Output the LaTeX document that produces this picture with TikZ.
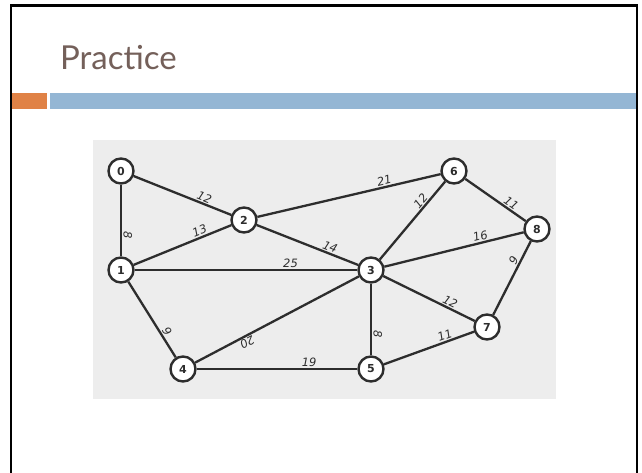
\documentclass[tikz,border=0pt]{standalone}
\usepackage{fontspec}
\newfontfamily\titlefont{Lato}
\newfontfamily\numfont{DejaVu Sans}
\definecolor{titlecol}{RGB}{116,96,90}
\definecolor{orangebar}{RGB}{224,130,70}
\definecolor{bluebar}{RGB}{148,182,212}
\definecolor{panel}{RGB}{237,237,237}
\definecolor{ink}{RGB}{45,45,45}
\begin{document}
\begin{tikzpicture}[x=1pt,y=-1pt,
  vtx/.style={circle,draw=ink,line width=2.4pt,fill=white,minimum size=25pt,inner sep=0pt,
    font=\numfont\bfseries\fontsize{11}{11}\selectfont,text=ink},
  edge/.style={draw=ink,line width=2.3pt},
  wt/.style={pos=0.7,above,sloped,allow upside down,inner sep=1.2pt,
    font=\numfont\itshape\fontsize{11.5}{11.5}\selectfont,text=ink}]
\useasboundingbox (0,0) rectangle (642,472);
\fill[white] (0,0) rectangle (642,472);
% frame
\draw[black,line width=2.8pt] (11,473) -- (11,5.5) -- (637,5.5) -- (637,473);
% title
\node[anchor=base west,inner sep=0pt,text=titlecol,font=\titlefont\fontsize{33}{33}\selectfont] (title) at (60,69) {Practice};
% bars
\fill[orangebar] (12.4,93) rectangle (47,109);
\fill[bluebar] (50,93) rectangle (635.6,109);
% panel
\fill[panel] (93,140) rectangle (556,399);
% nodes
\node[vtx] (n0) at (121,171) {0};
\node[vtx] (n1) at (121,270) {1};
\node[vtx] (n2) at (244,220) {2};
\node[vtx] (n3) at (371,270) {3};
\node[vtx] (n4) at (183,369) {4};
\node[vtx] (n5) at (371,369) {5};
\node[vtx] (n6) at (454,171) {6};
\node[vtx] (n7) at (487,327) {7};
\node[vtx] (n8) at (537,229) {8};
% edges
\draw[edge] (n0) -- node[wt] {8} (n1);
\draw[edge] (n0) -- node[wt] {12} (n2);
\draw[edge] (n1) -- node[wt] {13} (n2);
\draw[edge] (n1) -- node[wt] {25} (n3);
\draw[edge] (n1) -- node[wt] {9} (n4);
\draw[edge] (n2) -- node[wt] {14} (n3);
\draw[edge] (n2) -- node[wt] {21} (n6);
\draw[edge] (n3) -- node[wt] {12} (n6);
\draw[edge] (n3) -- node[wt] {16} (n8);
\draw[edge] (n3) -- node[wt] {20} (n4);
\draw[edge] (n3) -- node[wt] {8} (n5);
\draw[edge] (n3) -- node[wt] {12} (n7);
\draw[edge] (n4) -- node[wt] {19} (n5);
\draw[edge] (n5) -- node[wt] {11} (n7);
\draw[edge] (n6) -- node[wt] {11} (n8);
\draw[edge] (n7) -- node[wt] {9} (n8);
\end{tikzpicture}
\end{document}
